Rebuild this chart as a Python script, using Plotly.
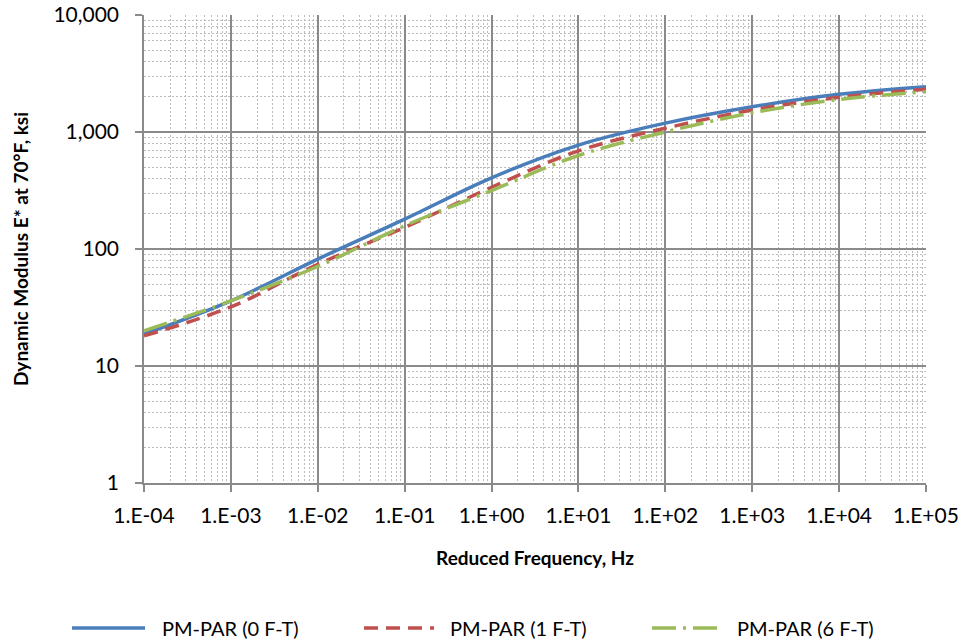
import plotly.graph_objects as go

# Reduced frequency (Hz) at which the master curves are reported
freq_hz = [1e-4, 1e-3, 1e-2, 1e-1, 1e0, 1e1, 1e2, 1e3, 1e4, 1e5]

# Dynamic modulus |E*| at 70°F (ksi) for each freeze-thaw condition
e_0ft = [18.7, 36, 82, 180, 406, 773, 1190, 1643, 2100, 2440]
e_1ft = [18.1, 32, 74, 153, 337, 690, 1077, 1540, 1980, 2320]
e_6ft = [20.0, 36, 71, 158, 316, 630, 1000, 1459, 1900, 2210]

series_names = ["PM-PAR (0 F-T)", "PM-PAR (1 F-T)", "PM-PAR (6 F-T)"]

x_tickvals = [1e-4, 1e-3, 1e-2, 1e-1, 1e0, 1e1, 1e2, 1e3, 1e4, 1e5]
x_ticktext = ["1.E-04", "1.E-03", "1.E-02", "1.E-01", "1.E+00",
              "1.E+01", "1.E+02", "1.E+03", "1.E+04", "1.E+05"]
y_tickvals = [1, 10, 100, 1000, 10000]
y_ticktext = ["1", "10", "100", "1,000", "10,000"]

FONT = "Lato"
TICK_SIZE = 21
GRID_MAJOR = "#8a8a8a"
GRID_MINOR = "#bcbcbc"

# plot-area geometry (px) used to place the legend in paper units
W, H = 966, 644
ML, MR, MT, MB = 144, 40, 15, 161
PW, PH = W - ML - MR, H - MT - MB


def px_to_paper_x(px):
    return (px - ML) / PW


def px_to_paper_y(py):
    return (H - MB - py) / PH


fig = go.Figure()

styles = [
    dict(color="#4A7EBB", dash="solid"),
    dict(color="#C0504D", dash="14px,8px"),
    dict(color="#9BBB59", dash="24px,7px,3px,7px"),
]

for name, vals, st in zip(series_names, [e_0ft, e_1ft, e_6ft], styles):
    fig.add_trace(go.Scatter(
        x=freq_hz, y=vals, name=name, mode="lines", showlegend=False,
        line=dict(color=st["color"], dash=st["dash"], width=3.5,
                  shape="spline", smoothing=1.0),
    ))

axis_common = dict(
    type="log",
    automargin=False,
    showline=True, linecolor=GRID_MAJOR, linewidth=1.5,
    showgrid=True, gridcolor=GRID_MAJOR, gridwidth=1.5,
    ticks="outside", ticklen=7, tickcolor=GRID_MAJOR, tickwidth=1.5,
    tickfont=dict(family=FONT, size=TICK_SIZE, color="#000000"),
    zeroline=False,
    minor=dict(showgrid=True, dtick="D1", gridcolor=GRID_MINOR,
               griddash="2px,2px", gridwidth=1, ticks=""),
)

fig.update_xaxes(
    **axis_common,
    range=[-4, 5],
    tickmode="array", tickvals=x_tickvals, ticktext=x_ticktext,
    ticklabelstandoff=6,
    title=dict(text="<b>Reduced Frequency, Hz</b>", standoff=26,
               font=dict(family=FONT, size=19, color="#000000")),
)
fig.update_yaxes(
    **axis_common,
    range=[0, 4],
    tickmode="array", tickvals=y_tickvals, ticktext=y_ticktext,
    ticklabelstandoff=12,
    title=dict(text="<b>Dynamic Modulus E* at 70°F, ksi</b>", standoff=20,
               font=dict(family=FONT, size=19, color="#000000")),
)

# legend drawn below the plot: line sample followed by its label
legend_y = px_to_paper_y(628)
legend_items = [(72, 145, 160), (364, 434, 448), (652, 722, 735)]
for (x0, x1, xt), name, st in zip(legend_items, series_names, styles):
    fig.add_shape(
        type="line", xref="paper", yref="paper",
        x0=px_to_paper_x(x0), x1=px_to_paper_x(x1), y0=legend_y, y1=legend_y,
        line=dict(color=st["color"], dash=st["dash"], width=3.5),
    )
    fig.add_annotation(
        xref="paper", yref="paper", x=px_to_paper_x(xt), y=legend_y,
        text=name, showarrow=False, xanchor="left", yanchor="middle",
        font=dict(family=FONT, size=20, color="#000000"),
    )

fig.update_layout(
    width=W, height=H,
    margin=dict(l=ML, r=MR, t=MT, b=MB),
    paper_bgcolor="#ffffff", plot_bgcolor="#ffffff",
    font=dict(family=FONT, size=TICK_SIZE, color="#000000"),
    showlegend=False,
)

fig.write_html("out.html")
